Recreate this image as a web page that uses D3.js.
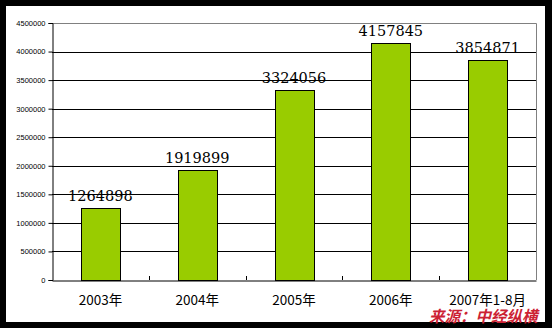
<!DOCTYPE html>
<html>
<head>
<meta charset="utf-8">
<script src="https://cdn.jsdelivr.net/npm/d3@7"></script>
<style>
  body { margin: 0; background: #000; }
  svg { display: block; }
</style>
</head>
<body>
<svg width="552" height="328"></svg>
<script>
const categories = ['2003年', '2004年', '2005年', '2006年', '2007年1-8月'];
const values = [1264898, 1919899, 3324056, 4157845, 3854871];
const yTicks = [0, 500000, 1000000, 1500000, 2000000, 2500000, 3000000, 3500000, 4000000, 4500000];
const sourceText = '来源：中经纵横';

const svg = d3.select('svg');
const width = +svg.attr('width');
const height = +svg.attr('height');

// black frame, white page
svg.append('rect')
    .attr('width', width).attr('height', height)
    .attr('fill', '#000');
svg.append('rect')
    .attr('x', 6).attr('y', 6)
    .attr('width', 539).attr('height', 316)
    .attr('fill', '#fff');

const plot = { left: 52, right: 536, top: 23, bottom: 280 };

const xScale = d3.scaleBand()
    .domain(categories)
    .range([plot.left, plot.right])
    .paddingInner(0.6)
    .paddingOuter(0.3);

const yScale = d3.scaleLinear()
    .domain([0, 4500000])
    .range([plot.bottom, plot.top]);

// gridlines
svg.append('g')
    .selectAll('line')
    .data(yTicks.filter(d => d > 0 && d < 4500000))
    .enter().append('line')
    .attr('x1', plot.left).attr('x2', plot.right)
    .attr('y1', d => Math.round(yScale(d)) + 0.5)
    .attr('y2', d => Math.round(yScale(d)) + 0.5)
    .attr('stroke', '#000')
    .attr('stroke-width', 1);

// gray border top / right
svg.append('path')
    .attr('d', `M${plot.left},${plot.top + 0.5}H${plot.right + 0.5}V${plot.bottom}`)
    .attr('fill', 'none')
    .attr('stroke', '#808080')
    .attr('stroke-width', 1);

// y axis
const yAxis = svg.append('g')
    .attr('transform', `translate(${plot.left + 0.5},0)`)
    .call(d3.axisLeft(yScale).tickValues(yTicks).tickSize(4).tickPadding(3).tickFormat(d3.format('d')));
yAxis.select('.domain').attr('stroke', '#000');
yAxis.selectAll('.tick line').attr('stroke', '#000');
yAxis.selectAll('.tick text')
    .attr('font-family', 'Liberation Sans, Arial, sans-serif')
    .attr('font-size', 7.5)
    .attr('fill', '#000');

// bars
svg.append('g')
    .selectAll('rect')
    .data(values)
    .enter().append('rect')
    .attr('x', (d, i) => Math.round(xScale(categories[i])) + 0.5)
    .attr('y', d => Math.round(yScale(d)) + 0.5)
    .attr('width', Math.round(xScale.bandwidth()))
    .attr('height', d => plot.bottom - Math.round(yScale(d)))
    .attr('fill', '#99cc00')
    .attr('stroke', '#000')
    .attr('stroke-width', 1);

// x axis
const xAxis = svg.append('g')
    .attr('transform', `translate(0,${plot.bottom + 0.5})`)
    .call(d3.axisBottom(xScale).tickSize(0).tickPadding(15));
xAxis.select('.domain').attr('stroke', '#000');
xAxis.selectAll('.tick text')
    .attr('font-family', 'Noto Sans CJK SC, sans-serif')
    .attr('font-size', 13.5)
    .attr('fill', '#000');

// category separator ticks pointing up
const step = xScale.step();
svg.append('g')
    .selectAll('line')
    .data(categories.slice(1))
    .enter().append('line')
    .attr('x1', (d, i) => Math.round(plot.left + step * (i + 1)) + 0.5)
    .attr('x2', (d, i) => Math.round(plot.left + step * (i + 1)) + 0.5)
    .attr('y1', plot.bottom)
    .attr('y2', plot.bottom - 4)
    .attr('stroke', '#000');

// value labels
svg.append('g')
    .selectAll('text')
    .data(values)
    .enter().append('text')
    .attr('x', (d, i) => xScale(categories[i]) + xScale.bandwidth() / 2)
    .attr('y', d => yScale(d) - 7)
    .attr('text-anchor', 'middle')
    .attr('font-family', 'DejaVu Serif, serif')
    .attr('font-size', 14.5)
    .attr('fill', '#000')
    .text(d => d);

// source note
svg.append('text')
    .attr('x', 429)
    .attr('y', 322)
    .attr('font-family', 'Noto Sans CJK SC, sans-serif')
    .attr('font-weight', 'bold')
    .attr('font-style', 'italic')
    .attr('font-size', 15.5)
    .attr('fill', '#cc2233')
    .text(sourceText);
</script>
</body>
</html>
